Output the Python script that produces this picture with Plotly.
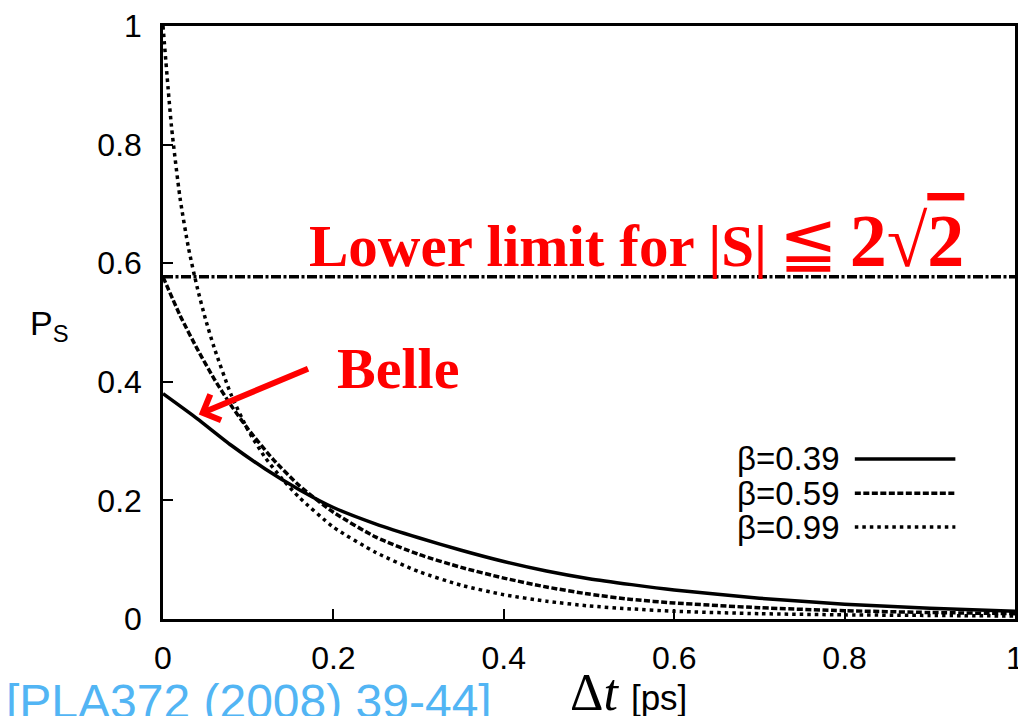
import plotly.graph_objects as go

# ---------------- data ----------------
t_039 = [0.0, 0.04, 0.08, 0.12, 0.16, 0.20, 0.25, 0.30, 0.35, 0.40, 0.45, 0.50, 0.55, 0.60, 0.70, 0.80, 0.90, 1.0]
p_039 = [0.380, 0.338, 0.293, 0.253, 0.218, 0.188, 0.160, 0.137, 0.116, 0.097, 0.081, 0.068, 0.058, 0.049, 0.035, 0.025, 0.018, 0.013]

t_059 = [0.0, 0.02, 0.04, 0.06, 0.08, 0.10, 0.13, 0.16, 0.20, 0.25, 0.30, 0.35, 0.40, 0.45, 0.50, 0.55, 0.60, 0.70, 0.80, 0.90, 1.0]
p_059 = [0.577, 0.512, 0.456, 0.405, 0.360, 0.320, 0.268, 0.225, 0.180, 0.138, 0.109, 0.087, 0.069, 0.054, 0.042, 0.033, 0.027, 0.019, 0.014, 0.011, 0.009]

t_099 = [0.0, 0.01, 0.02, 0.03, 0.04, 0.05, 0.06, 0.08, 0.10, 0.12, 0.14, 0.16, 0.20, 0.25, 0.30, 0.35, 0.40, 0.45, 0.50, 0.55, 0.60, 0.70, 0.80, 0.90, 1.0]
p_099 = [1.0, 0.83, 0.71, 0.625, 0.56, 0.505, 0.458, 0.378, 0.318, 0.272, 0.236, 0.205, 0.155, 0.112, 0.080, 0.057, 0.041, 0.030, 0.022, 0.017, 0.013, 0.009, 0.007, 0.006, 0.005]

lower_limit = 0.577
labels = ["β=0.39", "β=0.59", "β=0.99"]
x_ticks = [0, 0.2, 0.4, 0.6, 0.8, 1]
x_tick_text = ["0", "0.2", "0.4", "0.6", "0.8", "1"]
y_ticks = [0, 0.2, 0.4, 0.6, 0.8, 1]
y_tick_text = ["0", "0.2", "0.4", "0.6", "0.8", "1"]

# ---------------- styles ----------------
dashes = ["solid", "6px,2.5px", "3.5px,4px"]
SANS = "Liberation Sans, Arial, sans-serif"
SERIF = "Liberation Serif, Times New Roman, serif"
RED = "#ff0000"

fig = go.Figure()
for tt, pp, d, lab in zip([t_039, t_059, t_099], [p_039, p_059, p_099], dashes, labels):
    fig.add_trace(go.Scatter(x=tt, y=pp, mode="lines", name=lab,
                             line=dict(color="black", width=3.5, dash=d, shape="spline", smoothing=0.6),
                             showlegend=False, hoverinfo="skip"))

fig.add_trace(go.Scatter(x=[0, 1], y=[lower_limit, lower_limit], mode="lines",
                         line=dict(color="black", width=3.5, dash="10px,2.5px,3px,2.5px"),
                         showlegend=False, hoverinfo="skip"))

# manual legend (text left, line sample right)
leg_y = [0.27, 0.212, 0.155]
for lab, d, yy in zip(labels, dashes, leg_y):
    fig.add_annotation(x=0.796, y=yy, xref="x", yref="y", text=lab, showarrow=False,
                       xanchor="right", yanchor="middle",
                       font=dict(family=SANS, size=33, color="black"))
    fig.add_shape(type="line", x0=0.812, x1=0.93, y0=yy, y1=yy, xref="x", yref="y",
                  line=dict(color="black", width=3.5, dash=d))

# red annotations
fig.add_annotation(x=0.169, y=0.638, xref="x", yref="y", xanchor="left", yanchor="middle",
                   text=("<b>Lower limit for |S|</b>\u2009<span style='font-size:70px'>≦</span>\u2009"
                         "<b><span style='font-size:74px'>2√<span style='text-decoration:overline'>2</span></span></b>"),
                   showarrow=False, font=dict(family=SERIF, size=59, color=RED))
fig.add_annotation(x=0.202, y=0.423, xref="x", yref="y", xanchor="left", yanchor="middle",
                   text="<b>Belle</b>", showarrow=False,
                   font=dict(family=SERIF, size=58, color=RED))
fig.add_annotation(x=0.042, y=0.345, xref="x", yref="y", ax=0.172, ay=0.423,
                   axref="x", ayref="y", text="", showarrow=True,
                   arrowhead=4, arrowsize=0.9, arrowwidth=6, arrowcolor=RED)

# axis titles and source (positioned in pixels below)
fig.add_annotation(x=0, y=0, xref="paper", yref="paper", text="P<sub>S</sub>", showarrow=False,
                   font=dict(family=SANS, size=34, color="black"))
fig.add_annotation(x=0.5, y=0, xref="paper", yref="paper", showarrow=False,
                   text="Δ<i>t</i> <span style='font-family:Liberation Sans;font-size:35px'>[ps]</span>",
                   font=dict(family=SERIF, size=52, color="black"))
fig.add_annotation(x=0.0, y=0, xref="paper", yref="paper", showarrow=False,
                   text="[PLA372 (2008) 39-44]",
                   font=dict(family=SANS, size=48, color="#52b5f4"))

fig.update_layout(
    width=1018, height=716,
    margin=dict(l=163, r=3, t=26, b=97),
    paper_bgcolor="white", plot_bgcolor="white",
    xaxis=dict(range=[0, 1], tickvals=x_ticks, ticktext=x_tick_text, ticks="inside", ticklen=10,
               tickwidth=2, tickcolor="black", showline=True, linecolor="black", linewidth=2.5,
               mirror=True, showgrid=False, zeroline=False, ticklabelstandoff=9,
               ticklabeloverflow="allow", automargin=False,
               tickfont=dict(family=SANS, size=32, color="black")),
    yaxis=dict(range=[0, 1], tickvals=y_ticks, ticktext=y_tick_text, ticks="inside", ticklen=10,
               tickwidth=2, tickcolor="black", showline=True, linecolor="black", linewidth=2.5,
               mirror=True, showgrid=False, zeroline=False, ticklabelstandoff=12,
               ticklabeloverflow="allow", automargin=False,
               tickfont=dict(family=SANS, size=32, color="black")),
)

# place pixel-positioned annotations
ann = list(fig.layout.annotations)
W, H = 1018, 716
l, r, t, b = 163, 3, 26, 97
pw, ph = W - l - r, H - t - b
def px2paper(xp, yp):
    return (xp - l) / pw, (H - b - yp) / ph
ann[-3].update(dict(zip(("x", "y"), px2paper(49, 325))), xanchor="center", yanchor="middle")
ann[-2].update(dict(zip(("x", "y"), px2paper(628, 692))), xanchor="center", yanchor="middle")
ann[-1].update(dict(zip(("x", "y"), px2paper(4, 673))), xanchor="left", yanchor="top")
fig.layout.annotations = ann

fig.write_html("out.html")
